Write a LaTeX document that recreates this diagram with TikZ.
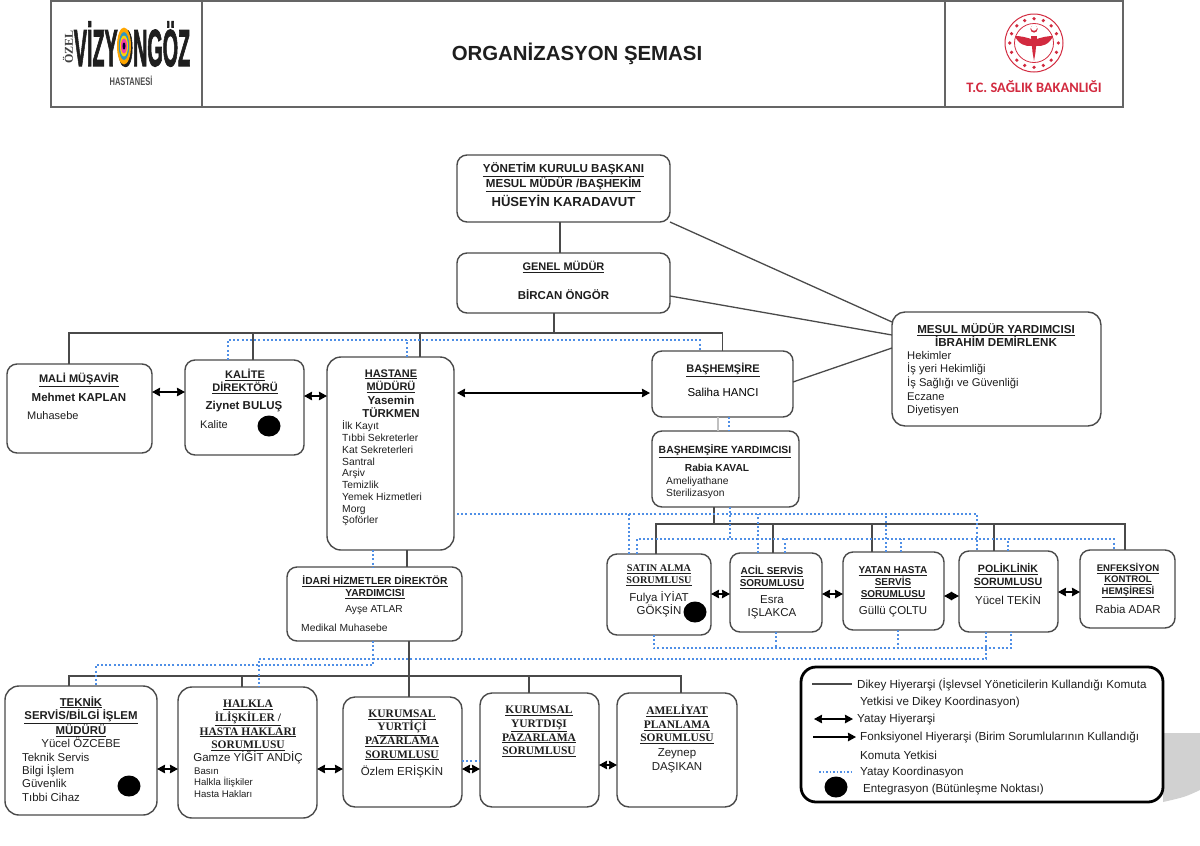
\documentclass[tikz,border=0pt]{standalone}
\usepackage{fontspec}
\setmainfont{Liberation Sans}
\newfontfamily\serifB{Liberation Serif}
\newfontfamily\logoB{Carlito}
\newfontfamily\logoF[BoldFeatures={FakeBold=2.5}]{Liberation Sans}
\usetikzlibrary{shapes.geometric,arrows.meta}
\definecolor{lineC}{HTML}{4A4A4A}
\definecolor{dotC}{HTML}{4F8FE6}
\definecolor{inkC}{HTML}{1E1E1E}
\definecolor{redC}{HTML}{D22A3F}
\newcommand{\fz}[2]{\fontsize{#1}{#2}\selectfont}

\begin{document}
\begin{tikzpicture}[
    x=1pt, y=-1pt,
    box/.style={draw=lineC, line width=1.4pt, rounded corners=10pt, inner sep=0pt, outer sep=0pt},
    ttl/.style={align=center, inner sep=0pt, text=inkC, font=\bfseries\fz{11}{13.4}},
    ttlS/.style={align=center, inner sep=0pt, text=inkC, font=\serifB\bfseries\fz{11.5}{13.6}},
    ppl/.style={align=center, inner sep=0pt, text=inkC, font=\fz{11.5}{13.5}},
    who/.style={align=center, inner sep=0pt, text=inkC, font=\bfseries\fz{11.5}{13.2}},
    lst/.style={anchor=west, align=left, inner sep=0pt, text=inkC, font=\fz{10.3}{11.75}},
    key/.style={anchor=west, inner sep=0pt, text=inkC, font=\fz{11.65}{13}},
    lin/.style={draw=lineC, line width=1.3pt},
    crd/.style={draw=dotC, line width=2pt, dash pattern=on 2pt off 2.2pt},
    arrow/.style={<->, line width=1.6pt, >={Stealth[length=8pt,width=8.5pt,inset=0.5pt]}},
    blob/.style={ellipse, fill=black, minimum width=23pt, minimum height=21pt, inner sep=0pt}
]
\useasboundingbox (0,0) rectangle (1200,846);

% Header
\node[draw=lineC!85, line width=2pt, minimum width=1072pt, minimum height=106pt, inner sep=0pt] (head) at (587,54) {};
\draw[draw=lineC!85, line width=2pt] (head.north -| 202,0) -- (head.south -| 202,0);
\draw[draw=lineC!85, line width=2pt] (head.north -| 945,0) -- (head.south -| 945,0);
\node[inner sep=0pt, text=inkC, font=\bfseries\fz{20.4}{20}] (title) at (577,54) {ORGANİZASYON ŞEMASI};

% Left logo
\node[inner sep=0pt, text=inkC] (logoV) at (132,44) {\scalebox{0.38}[1]{\logoF\bfseries\fz{52}{52}VİZYONGÖZ}};
\fill[orange!70!yellow] (124,46) ellipse (7 and 18.5);
\fill[cyan!50!teal] (124,46) ellipse (5.2 and 14);
\fill[yellow!70!orange] (124,46) ellipse (4 and 10.5);
\fill[magenta!75] (124,46) ellipse (3 and 7.5);
\fill[black!80!blue] (124,46) ellipse (1.5 and 3.5);
\node[rotate=90, inner sep=0pt, text=black!75, font=\serifB\bfseries\fz{12}{12}] (logoO) at (68,47) {ÖZEL};
\node[inner sep=0pt, text=black!70] (logoH) at (131,81) {\scalebox{0.68}[1]{\bfseries\fz{11}{12}HASTANESİ}};

% Right logo
\draw[redC, line width=1pt] (1034,43) circle (29);
\draw[redC, line width=.8pt] (1034,43) circle (19.5);
\foreach \a in {0,22.5,...,337.5}
    \fill[redC] (1034,43) ++(\a:24.3) circle (1.8);
\fill[redC] (1034,29) circle (3.6);
\fill[white] (1034,27.8) circle (3);
\fill[redC] (1034,40) .. controls (1026,37) and (1020,36) .. (1015,36) .. controls (1018,44) and (1026,47) .. (1032,46) -- cycle;
\fill[redC] (1034,40) .. controls (1042,37) and (1048,36) .. (1053,36) .. controls (1050,44) and (1042,47) .. (1036,46) -- cycle;
\fill[redC] (1031,36) -- (1037,36) -- (1035.5,52) -- (1034,61) -- (1032.5,52) -- cycle;
\node[inner sep=0pt, text=redC, font=\logoB\bfseries\fz{14.4}{16}] (logoT) at (1034,87) {T.C. SAĞLIK BAKANLIĞI};

% Boxes
\node[box, minimum width=213pt, minimum height=67pt] (yon) at (563.5,188.5) {};
\node[box, minimum width=213pt, minimum height=60pt] (gen) at (563.5,283) {};
\node[box, rounded corners=13pt, minimum width=209pt, minimum height=114pt] (mes) at (996.5,369) {};
\node[box, minimum width=145pt, minimum height=89pt] (mali) at (79.5,408.5) {};
\node[box, minimum width=119pt, minimum height=95pt] (kal) at (244.5,407.5) {};
\node[box, rounded corners=14pt, minimum width=127pt, minimum height=193pt] (has) at (390.5,453.5) {};
\node[box, minimum width=141pt, minimum height=66pt] (bas) at (722.5,384) {};
\node[box, minimum width=147pt, minimum height=76pt] (yrd) at (725.5,469) {};
\node[box, minimum width=104pt, minimum height=81pt] (sat) at (659,594.5) {};
\node[box, minimum width=92pt, minimum height=79pt] (aci) at (776,592.5) {};
\node[box, minimum width=101pt, minimum height=78pt] (yat) at (893.5,591) {};
\node[box, minimum width=99pt, minimum height=81pt] (pol) at (1008.5,591.5) {};
\node[box, minimum width=95pt, minimum height=78pt] (enf) at (1127.5,589) {};
\node[box, minimum width=175pt, minimum height=74pt] (ida) at (374.5,604) {};
\node[box, rounded corners=14pt, minimum width=152pt, minimum height=129pt] (tek) at (81,750.5) {};
\node[box, rounded corners=14pt, minimum width=139pt, minimum height=131pt] (hal) at (247.5,752.5) {};
\node[box, rounded corners=12pt, minimum width=119pt, minimum height=110pt] (yic) at (402.5,752) {};
\node[box, rounded corners=12pt, minimum width=119pt, minimum height=114pt] (yds) at (539.5,750) {};
\node[box, rounded corners=12pt, minimum width=120pt, minimum height=114pt] (ame) at (677,750) {};

% Texts inside the boxes
\node[ttl, font=\bfseries\fz{11.6}{13.6}] (yonT) at (563.5,177) {\underline{YÖNETİM KURULU BAŞKANI}\\\underline{MESUL MÜDÜR /BAŞHEKİM}};
\node[who, font=\bfseries\fz{13.1}{14}] (yonN) at (563.5,201) {HÜSEYİN KARADAVUT};
\node[ttl] (genT) at (563.5,267) {\underline{GENEL MÜDÜR}};
\node[who] (genN) at (563.5,295) {BİRCAN ÖNGÖR};
\node[ttl, font=\bfseries\fz{11.6}{13}] (mesT) at (996,335) {\underline{MESUL MÜDÜR YARDIMCISI}\\İBRAHİM DEMİRLENK};
\node[lst, font=\fz{11.2}{13.6}] (mesL) at (907,383.5) {Hekimler\\İş yeri Hekimliği\\İş Sağlığı ve Güvenliği\\Eczane\\Diyetisyen};
\node[ttl] (maliT) at (79,380) {\underline{MALİ MÜŞAVİR}};
\node[who] (maliN) at (79,397) {Mehmet KAPLAN};
\node[lst, font=\fz{11}{13}] (maliL) at (27,416) {Muhasebe};
\node[ttl] (kalT) at (245,381.5) {\underline{KALİTE}\\\underline{DİREKTÖRÜ}};
\node[who] (kalN) at (244,407) {Ziynet BULUŞ};
\node[lst, font=\fz{11}{13}] (kalL) at (200,425) {Kalite};
\node[ttl] (hasT) at (391,381) {\underline{HASTANE}\\\underline{MÜDÜRÜ}};
\node[who] (hasN) at (391,407) {Yasemin\\TÜRKMEN};
\node[lst] (hasL) at (342,473.5) {İlk Kayıt\\Tıbbi Sekreterler\\Kat Sekreterleri\\Santral\\Arşiv\\Temizlik\\Yemek Hizmetleri\\Morg\\Şoförler};
\node[ttl] (basT) at (723,370) {\underline{BAŞHEMŞİRE}};
\node[ppl, text=black] (basN) at (723,392) {Saliha HANCI};
\node[ttl, font=\bfseries\fz{10.4}{12}] (yrdT) at (725,451) {\underline{BAŞHEMŞİRE YARDIMCISI}};
\node[who, font=\bfseries\fz{10.2}{12}] (yrdN) at (717,468) {Rabia KAVAL};
\node[lst] (yrdL) at (666,488) {Ameliyathane\\Sterilizasyon};
\node[ttl, font=\bfseries\fz{10.2}{12}] (idaT) at (375,587) {\underline{İDARİ HİZMETLER DİREKTÖR}\\\underline{YARDIMCISI}};
\node[ppl, font=\fz{10.2}{12}] (idaN) at (374,610) {Ayşe ATLAR};
\node[lst] (idaL) at (301,628) {Medikal Muhasebe};
\node[ttlS, font=\serifB\bfseries\fz{10.2}{12}] (satT) at (659,575) {\underline{SATIN ALMA}\\\underline{SORUMLUSU}};
\node[ppl] (satN) at (659,604) {Fulya İYİAT\\GÖKŞİN};
\node[ttl, font=\bfseries\fz{10}{11.6}] (aciT) at (772,577.5) {\underline{ACİL SERVİS}\\\underline{SORUMLUSU}};
\node[ppl] (aciN) at (772,607.5) {Esra\\IŞLAKCA};
\node[ttl, font=\bfseries\fz{10}{11.6}] (yatT) at (893,583) {\underline{YATAN HASTA}\\\underline{SERVİS}\\\underline{SORUMLUSU}};
\node[ppl] (yatN) at (893,612) {Güllü ÇOLTU};
\node[ttl, font=\bfseries\fz{10.6}{12.8}] (polT) at (1008,575.5) {\underline{POLİKLİNİK}\\\underline{SORUMLUSU}};
\node[ppl] (polN) at (1008,600) {Yücel TEKİN};
\node[ttl, font=\bfseries\fz{9.6}{11.4}] (enfT) at (1128,580.5) {\underline{ENFEKSİYON}\\\underline{KONTROL}\\\underline{HEMŞİRESİ}};
\node[ppl] (enfN) at (1128,609) {Rabia ADAR};
\node[ttl, font=\bfseries\fz{11.4}{13.4}] (tekT) at (81,716.5) {\underline{TEKNİK}\\\underline{SERVİS/BİLGİ İŞLEM}\\\underline{MÜDÜRÜ}};
\node[ppl] (tekN) at (81,743) {Yücel ÖZCEBE};
\node[lst, font=\fz{11.4}{13.3}] (tekL) at (22,777) {Teknik Servis\\Bilgi İşlem\\Güvenlik\\Tıbbi Cihaz};
\node[ttlS] (halT) at (248,725.5) {\underline{HALKLA}\\\underline{İLİŞKİLER /}\\\underline{HASTA HAKLARI}\\\underline{SORUMLUSU}};
\node[ppl] (halN) at (248,758) {Gamze YİĞİT ANDİÇ};
\node[lst, font=\fz{9.6}{11.6}] (halL) at (194,782.5) {Basın\\Halkla İlişkiler\\Hasta Hakları};
\node[ttlS] (yicT) at (402,735) {\underline{KURUMSAL}\\\underline{YURTİÇİ}\\\underline{PAZARLAMA}\\\underline{SORUMLUSU}};
\node[ppl] (yicN) at (402,772) {Özlem ERİŞKİN};
\node[ttlS] (ydsT) at (539,731.5) {\underline{KURUMSAL}\\\underline{YURTDIŞI}\\\underline{PAZARLAMA}\\\underline{SORUMLUSU}};
\node[ttlS] (ameT) at (677,724.5) {\underline{AMELİYAT}\\\underline{PLANLAMA}\\\underline{SORUMLUSU}};
\node[ppl] (ameN) at (677,761) {Zeynep\\DAŞIKAN};

% Integration points
\node[blob] (kalB) at (269,426) {};
\node[blob] (satB) at (695,612) {};
\node[blob] (tekB) at (129,786) {};

% Vertical hierarchy
\coordinate (busA) at (554,333);
\coordinate (busB) at (714,524);
\coordinate (busC) at (409,676);
\draw[lin] (yon.south -| 560,0) -- (gen.north -| 560,0);
\draw[lin] ([xshift=-9.5pt]gen.south) -- (busA);
\draw[lin] ([xshift=-10.5pt]mali.north) |- (busA);
\draw[lin] (bas.north) |- (busA);
\draw[lin] ([xshift=8.5pt]kal.north) |- (busA);
\draw[lin] ([xshift=29.5pt]has.north) |- (busA);
\draw[lin] ([xshift=16.5pt]has.south) -- ([xshift=16.5pt]has.south |- ida.north);
\draw[lin, draw=lineC!35] ([xshift=-4.5pt]bas.south) -- ([xshift=-4.5pt]bas.south |- yrd.north);
\draw[lin] ([xshift=-11.5pt]yrd.south) -- (busB);
\draw[lin] ([xshift=-3pt]sat.north) |- (busB);
\draw[lin] ([xshift=-3pt]aci.north) |- (busB);
\draw[lin] ([xshift=-21.5pt]yat.north) |- (busB);
\draw[lin] ([xshift=-14.5pt]pol.north) |- (busB);
\draw[lin] ([xshift=-2.5pt]enf.north) |- (busB);
\draw[lin] ([xshift=34.5pt]ida.south) -- ([xshift=6.5pt]yic.north);
\draw[lin] ([xshift=-12pt]tek.north) |- (busC);
\draw[lin] ([xshift=-5.5pt]hal.north) |- (busC);
\draw[lin] ([xshift=-10.5pt]yds.north) |- (busC);
\draw[lin] ([xshift=4pt]ame.north) |- (busC);
\draw[lin] (yon.south east) -- ([yshift=47pt]mes.west);
\draw[lin] ([yshift=-13pt]gen.east) -- ([yshift=34pt]mes.west);
\draw[lin] ([yshift=2pt]bas.east) -- ([yshift=21pt]mes.west);

% Horizontal hierarchy
\draw[arrow] ([yshift=16.5pt]mali.east) -- ([yshift=15.5pt]kal.west);
\draw[arrow] ([yshift=11.5pt]kal.east) -- ([yshift=57.5pt]has.west);
\draw[arrow] ([xshift=3pt,yshift=60.5pt]has.east) -- ([xshift=-2pt,yshift=-9pt]bas.west);
\draw[arrow] ([yshift=.5pt]sat.east) -- ([yshift=-1.5pt]aci.west);
\draw[arrow] ([yshift=-1.5pt]aci.east) -- ([yshift=-3pt]yat.west);
\draw[arrow] ([yshift=-5pt]yat.east) -- ([yshift=-4.5pt]pol.west);
\draw[arrow] ([yshift=-.5pt]pol.east) -- ([yshift=-3pt]enf.west);
\draw[arrow] ([yshift=-18.5pt]tek.east) -- ([yshift=-16.5pt]hal.west);
\draw[arrow] ([yshift=-16.5pt]hal.east) -- ([yshift=-17pt]yic.west);
\draw[arrow] ([yshift=-17pt]yic.east) -- ([yshift=-19pt]yds.west);
\draw[arrow] ([yshift=-15pt]yds.east) -- ([yshift=-15pt]ame.west);

% Horizontal coordination
\coordinate (crdA) at (228,340);
\coordinate (crdB) at (977,514);
\coordinate (crdC) at (1114,539);
\coordinate (crdD) at (1011,648);
\coordinate (crdE) at (259,659);
\coordinate (crdF) at (96,665);
\draw[crd] ([xshift=-16.5pt]kal.north) -- (crdA) -| ([xshift=-22.5pt]bas.north);
\draw[crd] ([xshift=16.5pt]has.north) -- ([xshift=16.5pt]has.north |- crdA);
\draw[crd] ([xshift=6.5pt]bas.south) -- ([xshift=6.5pt]bas.south |- yrd.north);
\draw[crd] ([xshift=3pt,yshift=-60.5pt]has.east) -| ([xshift=-31.5pt]pol.north);
\draw[crd] ([xshift=-30pt]sat.north) -- ([xshift=-30pt]sat.north |- crdB);
\draw[crd] ([xshift=-18pt]aci.north) -- ([xshift=-18pt]aci.north |- crdB);
\draw[crd] ([xshift=-8pt]yat.north) -- ([xshift=-8pt]yat.north |- crdB);
\draw[crd] ([xshift=4.5pt]yrd.south) -- ([xshift=4.5pt]yrd.south |- crdC);
\draw[crd] ([xshift=-22pt]sat.north) |- (crdC) -- ([xshift=-13.5pt]enf.north);
\draw[crd] ([xshift=9pt]aci.north) -- ([xshift=9pt]aci.north |- crdC);
\draw[crd] ([xshift=7.5pt]yat.north) -- ([xshift=7.5pt]yat.north |- crdC);
\draw[crd] ([xshift=-.5pt]pol.north) -- ([xshift=-.5pt]pol.north |- crdC);
\draw[crd] ([xshift=-5.5pt]sat.south) |- (crdD) -- ([xshift=2.5pt]pol.south);
\draw[crd] (aci.south) -- (aci.south |- crdD);
\draw[crd] ([xshift=4.5pt]yat.south) -- ([xshift=4.5pt]yat.south |- crdD);
\draw[crd] ([xshift=-22.5pt]pol.south) |- (crdE) -- ([xshift=11.5pt]hal.north);
\draw[crd] ([xshift=-1.5pt]ida.south) |- (crdF) -- ([xshift=15pt]tek.north);
\draw[crd] ([xshift=-17.5pt]has.south) -- ([xshift=-17.5pt]has.south |- ida.north);
\draw[crd] ([yshift=-9pt]yic.east) -- ([yshift=-11pt]yds.west);

% Legend
\fill[black!18] (1163,733) -- (1200,733) -- (1200,790) .. controls (1185,797) .. (1163,802) -- cycle;
\node[box, draw=black, line width=2.8pt, fill=white, rounded corners=15pt, minimum width=362pt, minimum height=135pt] (leg) at (982,734.5) {};
\coordinate (lgA) at (812,684);
\coordinate (lgB) at (852,684);
\coordinate (lgC) at (814,719);
\coordinate (lgD) at (853,719);
\coordinate (lgE) at (813,737);
\coordinate (lgF) at (856,737);
\coordinate (lgG) at (819,772);
\coordinate (lgH) at (852,772);
\draw[lin] (lgA) -- (lgB);
\draw[arrow] (lgC) -- (lgD);
\draw[arrow, <-] (lgF) -- (lgE);
\draw[crd, line width=1.5pt, dash pattern=on 1.5pt off 2pt] (lgG) -- (lgH);
\node[blob] (legB) at (836,787) {};
\node[key] (keyA) at (857,685) {Dikey Hiyerarşi (İşlevsel Yöneticilerin Kullandığı Komuta};
\node[key] (keyB) at (860,702) {Yetkisi ve Dikey Koordinasyon)};
\node[key] (keyC) at (857,720) {Yatay Hiyerarşi};
\node[key] (keyD) at (860,737) {Fonksiyonel Hiyerarşi (Birim Sorumlularının Kullandığı};
\node[key] (keyE) at (860,755) {Komuta Yetkisi};
\node[key] (keyF) at (860,772) {Yatay Koordinasyon};
\node[key] (keyG) at (863,790) {Entegrasyon (Bütünleşme Noktası)};

\end{tikzpicture}
\end{document}
